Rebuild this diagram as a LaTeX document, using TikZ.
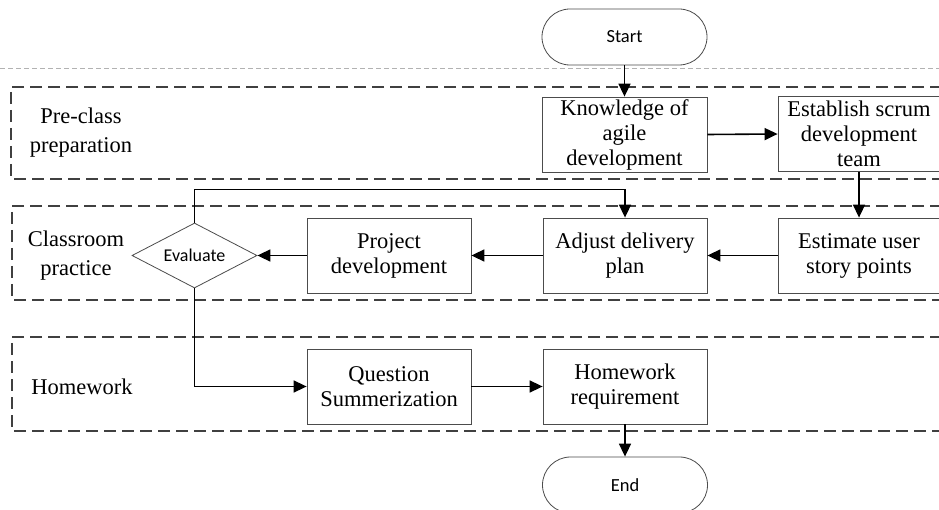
\documentclass[tikz,border=0pt]{standalone}
\usepackage{fontspec}
\setmainfont{Liberation Serif}
\newfontfamily\carl{Carlito}
\usetikzlibrary{arrows.meta,shapes.geometric}
\begin{document}
\begin{tikzpicture}[x=1pt,y=-1pt,
  boxnode/.style={draw=black!70,line width=0.8pt,rectangle,inner sep=0pt,
    minimum width=164pt,minimum height=75pt,align=center,
    font=\fontsize{22.5}{25}\selectfont},
  termnode/.style={draw=black!70,line width=0.8pt,rectangle,rounded corners=28pt,
    minimum width=165pt,minimum height=56pt,inner sep=0pt,
    font=\carl\fontsize{18.5}{20}\selectfont},
  decnode/.style={draw=black!70,line width=0.8pt,diamond,aspect=1.92,inner sep=0pt,
    minimum width=125pt,minimum height=65pt,font=\carl\fontsize{18}{20}\selectfont},
  lanebox/.style={draw=black!75,line width=1.9pt,dash pattern=on 12pt off 6pt},
  lanelabel/.style={align=center,font=\fontsize{22.5}{29}\selectfont},
  arr/.style={line width=1.6pt,-{Triangle[length=13pt,width=12pt]}}]
\useasboundingbox (0,0) rectangle (939,510);
\begin{scope}
\clip (0,0) rectangle (939,510);
\fill[white] (0,0) rectangle (939,510);
% gray guide line
\draw[black!30,line width=0.7pt,dash pattern=on 5pt off 3pt] (0,68) -- (939,68);
% swim lanes
\draw[lanebox] (960,87) -- (11,87) -- (11,179) -- (960,179);
\draw[lanebox] (960,206) -- (12,206) -- (12,300) -- (960,300);
\draw[lanebox] (960,337) -- (12,337) -- (12,431) -- (960,431);
\node[lanelabel] (lpre) at (81,133) {Pre-class\\preparation};
\node[lanelabel] (lcls) at (76,256) {Classroom\\practice};
\node[lanelabel] (lhw) at (82,387) {Homework};
% nodes
\node[termnode] (start) at (624.5,37) {Start};
\node[boxnode,fill=white,minimum width=165pt] (know) at (624.5,134.5) {Knowledge of\\agile\\development};
\node[boxnode,fill=white,minimum width=162pt] (estab) at (859,134) {Establish scrum\\development\\team};
\node[boxnode,fill=white,minimum width=162pt] (estim) at (859,255.5) {Estimate user\\story points};
\node[boxnode,fill=white] (adjust) at (625,255.5) {Adjust delivery\\plan};
\node[boxnode,fill=white] (proj) at (389,255.5) {Project\\development};
\node[decnode,fill=white] (eval) at (194.5,255.5) {Evaluate};
\node[boxnode,fill=white] (quest) at (389,386.5) {Question\\Summerization};
\node[boxnode,fill=white] (hwreq) at (625,386.5) {Homework\\requirement};
\node[termnode] (end) at (625,485) {End};
% connectors
\draw[arr] (start.south) -- (know.north);
\draw[arr] (know.east) -- (estab.west);
\draw[arr] (estab.south) -- (estim.north);
\draw[arr] (estim.west) -- (adjust.east);
\draw[arr] (adjust.west) -- (proj.east);
\draw[arr] (proj.west) -- (eval.east);
\draw[arr] (eval.north) -- ++(0,-33) -| (adjust.north);
\draw[arr] (eval.south) |- (quest.west);
\draw[arr] (quest.east) -- (hwreq.west);
\draw[arr] (hwreq.south) -- (end.north);
\end{scope}
\end{tikzpicture}
\end{document}
